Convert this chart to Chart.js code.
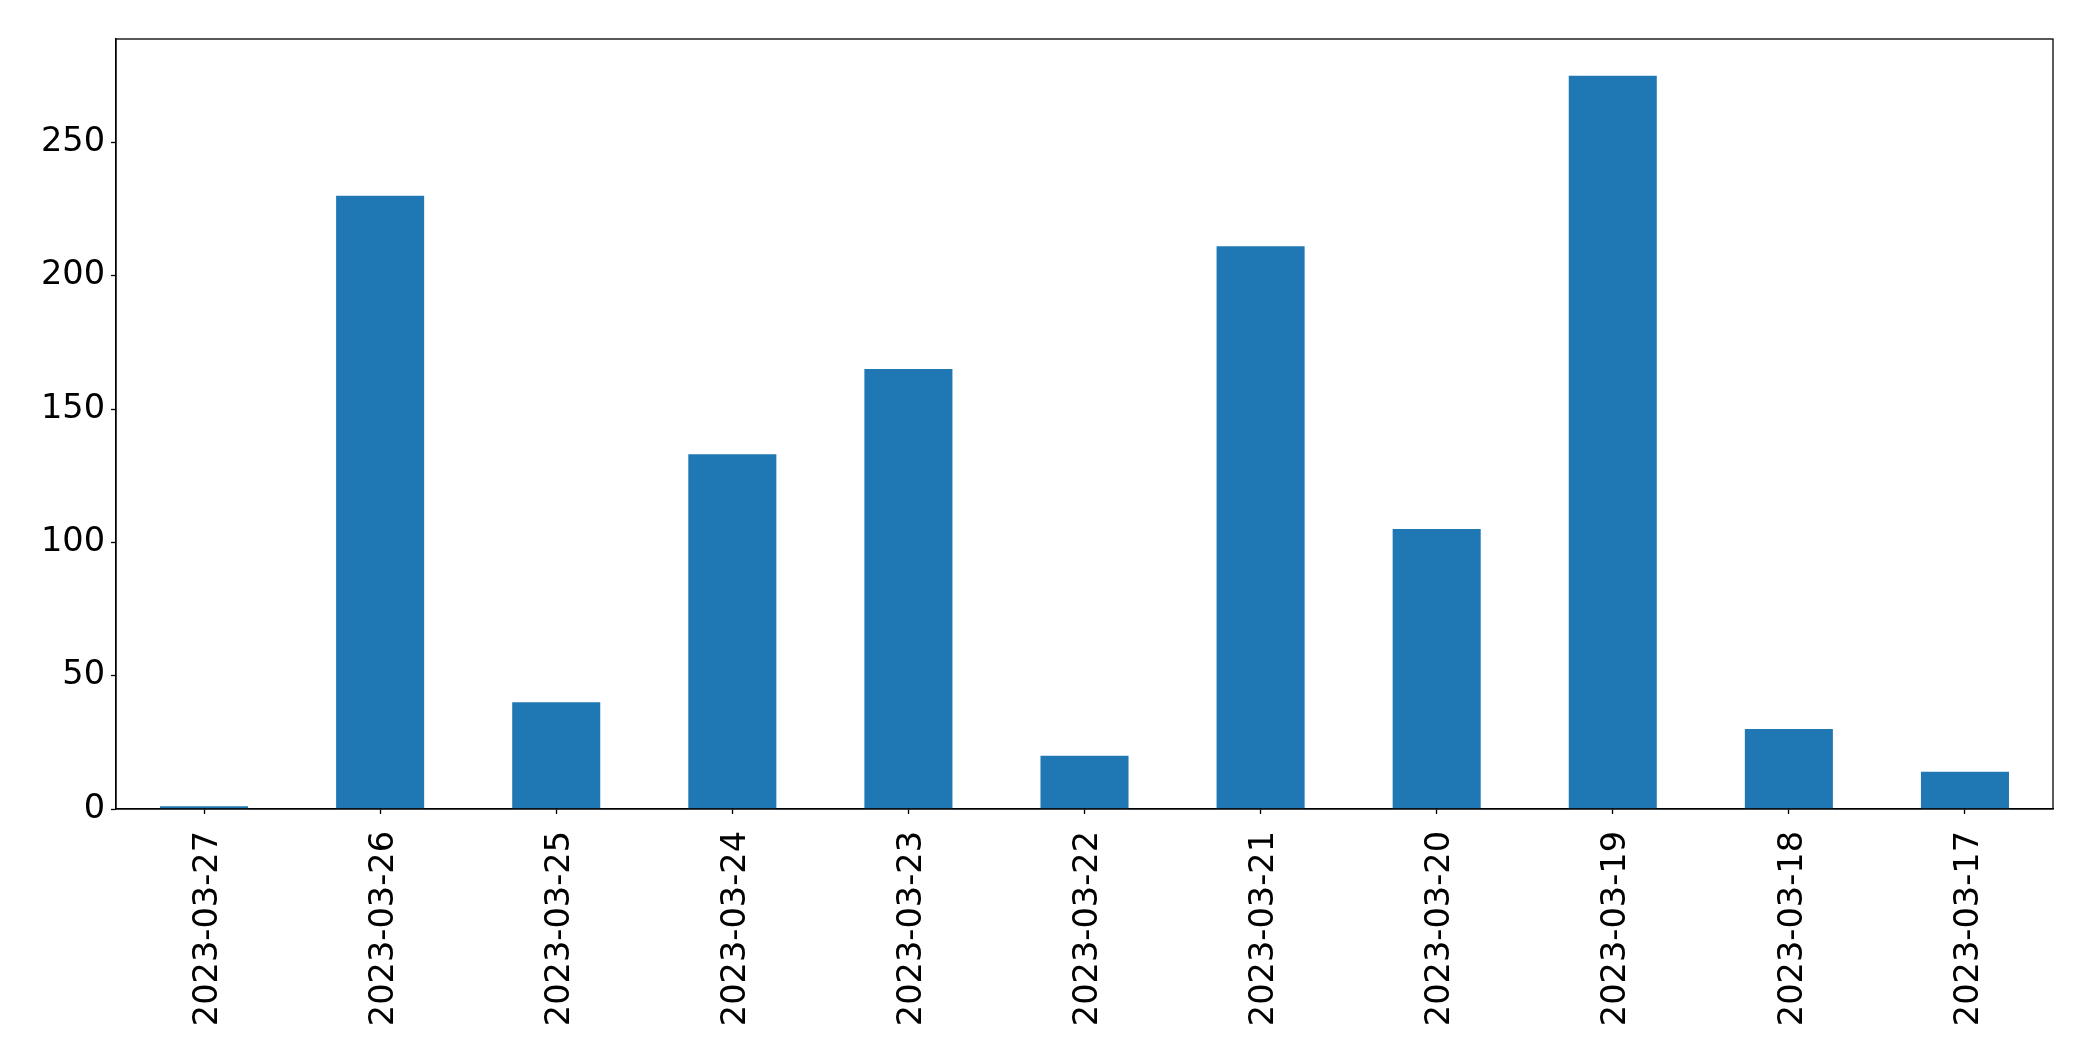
<!DOCTYPE html>
<html>
<head>
<meta charset="utf-8">
<script src="https://cdn.jsdelivr.net/npm/chart.js@4/dist/chart.umd.min.js"></script>
<style>
  html, body { margin: 0; padding: 0; background: #fff; }
  #wrap { width: 2093px; height: 1061px; position: relative; }
</style>
</head>
<body>
<div id="wrap"><canvas id="chart" width="2093" height="1061"></canvas></div>
<script>
const dates = [
  '2023-03-27', '2023-03-26', '2023-03-25', '2023-03-24', '2023-03-23', '2023-03-22',
  '2023-03-21', '2023-03-20', '2023-03-19', '2023-03-18', '2023-03-17'
];
const counts = [1, 230, 40, 133, 165, 20, 211, 105, 275, 30, 14];
const yTicks = [0, 50, 100, 150, 200, 250];
const yMax = 288.75;

const tickFont = { family: 'DejaVu Sans', size: 33.6 };

// matplotlib-style box around the plot area
const frame = {
  id: 'frame',
  afterDraw(chart) {
    const { ctx, chartArea: a } = chart;
    ctx.save();
    ctx.strokeStyle = '#000';
    ctx.lineWidth = 1.3;
    ctx.strokeRect(a.left, a.top, a.right - a.left, a.bottom - a.top);
    ctx.restore();
  }
};

new Chart(document.getElementById('chart'), {
  type: 'bar',
  data: {
    labels: dates,
    datasets: [{
      data: counts,
      backgroundColor: '#1f77b4',
      barPercentage: 0.5,
      categoryPercentage: 1.0
    }]
  },
  options: {
    responsive: false,
    animation: false,
    layout: { padding: { left: 0, top: 39, right: 40, bottom: 0 } },
    plugins: { legend: { display: false }, tooltip: { enabled: false } },
    scales: {
      x: {
        offset: true,
        grid: { display: true, drawOnChartArea: false, drawTicks: true, tickLength: 5, tickColor: '#000', tickWidth: 1.3, offset: false },
        border: { display: true, color: '#000', width: 1.3 },
        ticks: { color: '#000', font: tickFont, maxRotation: 90, minRotation: 90, padding: 17, labelOffset: 4, autoSkip: false },
        afterFit(scale) { scale.height = 252; }
      },
      y: {
        min: 0,
        max: yMax,
        bounds: 'data',
        grid: { display: true, drawOnChartArea: false, drawTicks: true, tickLength: 5, tickColor: '#000', tickWidth: 1.3 },
        border: { display: true, color: '#000', width: 1.3 },
        ticks: {
          color: '#000',
          font: tickFont,
          padding: 6,
          stepSize: 50,
          includeBounds: false
        },
        afterBuildTicks(scale) { scale.ticks = yTicks.map((v) => ({ value: v })); },
        afterFit(scale) { scale.width = 116; }
      }
    }
  },
  plugins: [frame]
});
</script>
</body>
</html>
